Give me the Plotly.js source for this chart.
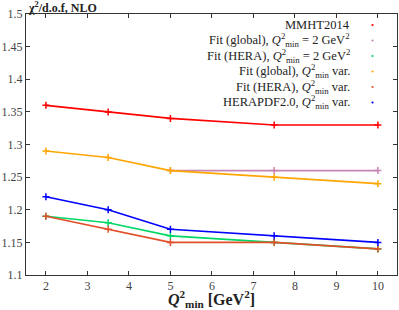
<!DOCTYPE html>
<html><head><meta charset="utf-8">
<script src="https://cdn.plot.ly/plotly-3.0.1.min.js"></script>
<style>html,body{margin:0;padding:0;background:#fff}#c{width:399px;height:310px}</style>
</head><body><div id="c"></div>
<script>
const qmin = [2, 3.5, 5, 7.5, 10];
const qminPink = [5, 7.5, 10];
const mmht = [1.36, 1.35, 1.34, 1.33, 1.33];
const globalFixed = [1.26, 1.26, 1.26];
const heraFixed = [1.19, 1.18, 1.16, 1.15, 1.14];
const globalVar = [1.29, 1.28, 1.26, 1.25, 1.24];
const heraVar = [1.19, 1.17, 1.15, 1.15, 1.14];
const herapdf = [1.22, 1.20, 1.17, 1.16, 1.15];
const names = ['MMHT2014',
  'Fit (global), <i>Q</i><sup>2</sup><sub>min</sub> = 2 GeV<sup>2</sup>',
  'Fit (HERA), <i>Q</i><sup>2</sup><sub>min</sub> = 2 GeV<sup>2</sup>',
  'Fit (global), <i>Q</i><sup>2</sup><sub>min</sub> var.',
  'Fit (HERA), <i>Q</i><sup>2</sup><sub>min</sub> var.',
  'HERAPDF2.0, <i>Q</i><sup>2</sup><sub>min</sub> var.'];
const colors = ['#ff0000', '#c585b5', '#00d865', '#ffa500', '#e2502a', '#0000ff'];

const series = [
  {x: qminPink, y: globalFixed, c: 1},
  {x: qmin, y: heraFixed, c: 2},
  {x: qmin, y: heraVar, c: 4},
  {x: qmin, y: globalVar, c: 3},
  {x: qmin, y: herapdf, c: 5},
  {x: qmin, y: mmht, c: 0}
];
const traces = series.map(s => ({
  x: s.x, y: s.y, type: 'scatter', mode: 'lines+markers',
  line: {color: colors[s.c], width: 1.6},
  marker: {symbol: 'cross-thin', size: 5, line: {color: colors[s.c], width: 1.5}, color: colors[s.c]},
  showlegend: false, hoverinfo: 'skip'
}));

const font = 'Liberation Serif, DejaVu Serif, serif';
const annotations = [];
const shapes = [];
const y0 = 0.958, dy = 0.0594;
names.forEach((n, i) => {
  const y = y0 - i * dy;
  annotations.push({xref: 'paper', yref: 'paper', x: 0.878, y: y, xanchor: 'right', yanchor: 'middle',
    text: n, showarrow: false, font: {family: font, size: 12.5, color: '#222'}});
  shapes.push({type: 'circle', xref: 'paper', yref: 'paper', x0: 0.931, x1: 0.937, y0: y - 0.004, y1: y + 0.004,
    fillcolor: colors[i], line: {width: 0}});
});
annotations.push({xref: 'paper', yref: 'paper', x: 0, y: 1.026, xanchor: 'left', yanchor: 'middle',
  text: '<b>χ<sup>2</sup>/d.o.f, NLO</b>', showarrow: false, font: {family: font, size: 12, color: '#222'}});

const axisCommon = {
  showgrid: false, zeroline: false, showline: true, mirror: 'ticks', linecolor: '#333', linewidth: 1,
  ticks: 'inside', ticklen: 4, tickcolor: '#333', tickwidth: 1,
  tickfont: {family: font, size: 12, color: '#444'}
};
const layout = {
  width: 399, height: 310,
  margin: {l: 26, r: 2, t: 14, b: 35},
  paper_bgcolor: '#fff', plot_bgcolor: '#fff',
  xaxis: Object.assign({}, axisCommon, {range: [1.52, 10.46], tickvals: [2,3,4,5,6,7,8,9,10],
    title: {text: '<b><i>Q</i><sup>2</sup><sub>min</sub> [GeV<sup>2</sup>]</b>', font: {family: font, size: 16, color: '#222'}, standoff: 6}}),
  yaxis: Object.assign({}, axisCommon, {range: [1.1, 1.5], tickvals: [1.1,1.15,1.2,1.25,1.3,1.35,1.4,1.45,1.5],
    ticktext: ['1.1','1.15','1.2','1.25','1.3','1.35','1.4','1.45','1.5']}),
  annotations: annotations, shapes: shapes, showlegend: false
};
Plotly.newPlot('c', traces, layout, {staticPlot: true, displayModeBar: false});
</script></body></html>
